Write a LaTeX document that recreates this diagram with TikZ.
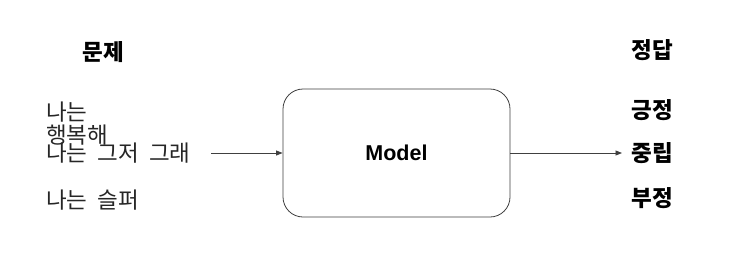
\documentclass[tikz,border=0pt]{standalone}
\usepackage{fontspec}
\setmainfont{Liberation Sans}
\newfontfamily\kr{Noto Sans CJK KR}[WordSpace=2]
\usetikzlibrary{arrows.meta}
\begin{document}
\begin{tikzpicture}[x=1pt,y=-1pt,
  lbl/.style={inner sep=0pt,anchor=west,text=black!85,font=\kr\fontsize{22.5}{22.5}\selectfont},
  hdr/.style={inner sep=0pt,font=\kr\bfseries\fontsize{22.5}{22.5}\selectfont},
  flow/.style={draw=black!75,line width=0.8pt,-{Triangle[length=6.5pt,width=5pt]}},
  modelbox/.style={draw=black!75,line width=0.8pt,rounded corners=20pt,minimum width=227pt,minimum height=128pt,font=\bfseries\fontsize{21.5}{21.5}\selectfont}]
\useasboundingbox (0,0) rectangle (730,260);
\fill[white] (0,0) rectangle (730,260);
\node[modelbox] (model) at (396.5,153) {Model};
\node[hdr] (q) at (103,52) {문제};
\node[hdr] (a) at (652,50) {정답};
\node[lbl] (t1a) at (46,112) {나는};
\node[lbl] (t1b) at (46,135) {행복해};
\node[lbl] (t2) at (46,153) {나는 그저 그래};
\node[lbl] (t3) at (46,200) {나는 슬퍼};
\node[hdr] (pos) at (652,110) {긍정};
\node[hdr] (neu) at (652,153) {중립};
\node[hdr] (neg) at (652,198) {부정};
\coordinate (in) at (211,153);
\coordinate (out) at (622,153);
\draw[flow] (in) -- (model.west);
\draw[flow] (model.east) -- (out);
\end{tikzpicture}
\end{document}
